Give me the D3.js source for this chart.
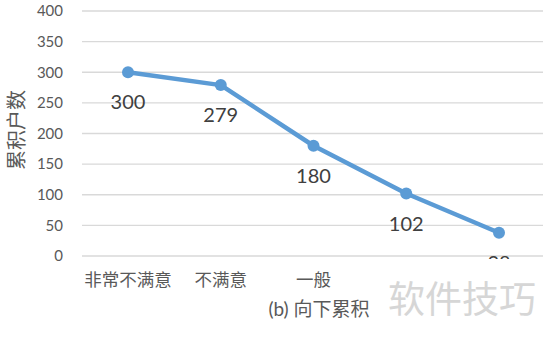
<!DOCTYPE html>
<html>
<head>
  <meta charset="utf-8">
  <title>向下累积</title>
  <script src="https://d3js.org/d3.v7.min.js"></script>
  <style>
    body { margin: 0; background: #fff; }
    text { font-family: Lato, "Noto Sans CJK SC", sans-serif; }
  </style>
</head>
<body>
  <div id="chart"></div>

  <script>
    // categories along the x axis (last two labels are not shown in the picture)
    var categories = ["非常不满意", "不满意", "一般", "满意", "非常满意"];
    var tickLabels = ["非常不满意", "不满意", "一般", "", ""];
    var values = [300, 279, 180, 102, 38];
    var yTicks = [0, 50, 100, 150, 200, 250, 300, 350, 400];

    var width = 543;
    var height = 340;
    var margin = { top: 11, right: -2, bottom: 84, left: 82 };

    var svg = d3.select("#chart")
      .append("svg")
      .attr("width", width)
      .attr("height", height);

    var x = d3.scalePoint()
      .domain(categories)
      .range([128, 499]);

    var y = d3.scaleLinear()
      .domain([0, 400])
      .range([height - margin.bottom, margin.top]);

    // gridlines
    svg.append("g")
      .selectAll("line")
      .data(yTicks)
      .enter()
      .append("line")
      .attr("x1", margin.left)
      .attr("x2", width)
      .attr("y1", function(d) { return y(d); })
      .attr("y2", function(d) { return y(d); })
      .attr("stroke", "#d9d9d9")
      .attr("stroke-width", 1.3);

    // y tick labels
    svg.append("g")
      .selectAll("text")
      .data(yTicks)
      .enter()
      .append("text")
      .attr("x", 63)
      .attr("y", function(d) { return y(d); })
      .attr("dy", "0.35em")
      .attr("text-anchor", "end")
      .style("font-size", "15px")
      .style("fill", "#595959")
      .text(function(d) { return d; });

    // x tick labels
    svg.append("g")
      .selectAll("text")
      .data(categories)
      .enter()
      .append("text")
      .attr("x", function(d) { return x(d); })
      .attr("y", 286)
      .attr("text-anchor", "middle")
      .style("font-size", "17.5px")
      .style("fill", "#595959")
      .text(function(d, i) { return tickLabels[i]; });

    // axis titles
    svg.append("text")
      .attr("transform", "translate(24,130) rotate(-90)")
      .attr("text-anchor", "middle")
      .style("font-size", "20px")
      .style("fill", "#595959")
      .text("累积户数");

    svg.append("text")
      .attr("x", 319)
      .attr("y", 316)
      .attr("text-anchor", "middle")
      .style("font-size", "19px")
      .style("fill", "#595959")
      .text("(b) 向下累积");

    // line + markers
    var line = d3.line()
      .x(function(d, i) { return x(categories[i]); })
      .y(function(d) { return y(d); });

    svg.append("path")
      .datum(values)
      .attr("d", line)
      .attr("fill", "none")
      .attr("stroke", "#5b9bd5")
      .attr("stroke-width", 4.5)
      .attr("stroke-linejoin", "round");

    svg.append("g")
      .selectAll("circle")
      .data(values)
      .enter()
      .append("circle")
      .attr("cx", function(d, i) { return x(categories[i]); })
      .attr("cy", function(d) { return y(d); })
      .attr("r", 6)
      .attr("fill", "#5b9bd5");

    // data labels, clipped at the bottom of the chart area
    svg.append("clipPath")
      .attr("id", "plotClip")
      .append("rect")
      .attr("x", 0)
      .attr("y", 0)
      .attr("width", width)
      .attr("height", 259);

    svg.append("g")
      .attr("clip-path", "url(#plotClip)")
      .selectAll("text")
      .data(values)
      .enter()
      .append("text")
      .attr("x", function(d, i) { return x(categories[i]); })
      .attr("y", function(d) { return y(d) + 30; })
      .attr("dy", "0.35em")
      .attr("text-anchor", "middle")
      .style("font-size", "20px")
      .style("fill", "#404040")
      .text(function(d) { return d; });

    // watermark
    svg.append("text")
      .attr("x", 462)
      .attr("y", 313)
      .attr("text-anchor", "middle")
      .style("font-size", "37px")
      .style("fill", "#d6d6d6")
      .text("软件技巧");
  </script>
</body>
</html>
